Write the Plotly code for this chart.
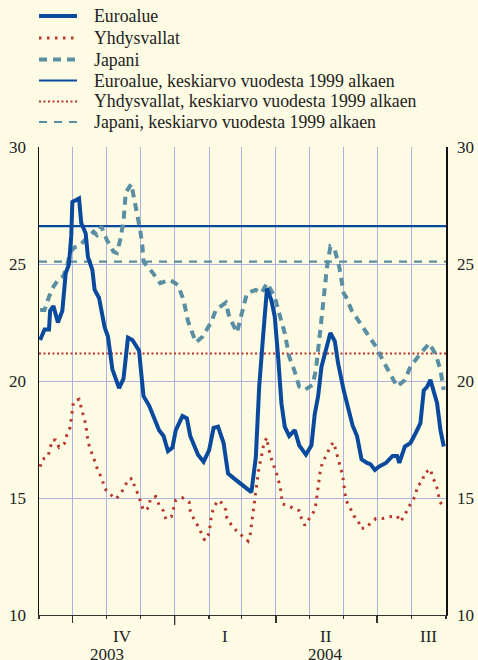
import plotly.graph_objects as go

# ---------------- data ----------------
euro_dates = [
    "2003-09-02", "2003-09-06", "2003-09-10", "2003-09-11", "2003-09-14", "2003-09-18",
    "2003-09-22", "2003-09-25", "2003-09-28", "2003-09-30", "2003-10-01", "2003-10-07",
    "2003-10-09", "2003-10-13", "2003-10-15", "2003-10-19", "2003-10-21", "2003-10-25",
    "2003-10-30", "2003-11-02", "2003-11-06", "2003-11-12", "2003-11-16", "2003-11-20",
    "2003-11-24", "2003-11-30", "2003-12-02", "2003-12-04", "2003-12-09", "2003-12-14",
    "2003-12-18", "2003-12-22", "2003-12-26", "2003-12-30", "2004-01-02", "2004-01-08",
    "2004-01-12", "2004-01-15", "2004-01-22", "2004-01-27", "2004-02-01", "2004-02-05",
    "2004-02-09", "2004-02-14", "2004-02-18", "2004-02-23", "2004-02-27", "2004-03-04",
    "2004-03-10", "2004-03-14", "2004-03-17", "2004-03-20", "2004-03-24", "2004-03-28",
    "2004-03-31", "2004-04-03", "2004-04-06", "2004-04-09", "2004-04-13", "2004-04-18",
    "2004-04-22", "2004-04-28", "2004-05-03", "2004-05-06", "2004-05-09", "2004-05-12",
    "2004-05-16", "2004-05-20", "2004-05-24", "2004-05-27", "2004-06-01", "2004-06-04",
    "2004-06-09", "2004-06-13", "2004-06-17", "2004-06-22", "2004-06-25", "2004-06-29",
    "2004-07-03", "2004-07-09", "2004-07-15", "2004-07-19", "2004-07-21", "2004-07-26",
    "2004-07-31", "2004-08-05", "2004-08-09", "2004-08-12", "2004-08-15", "2004-08-18",
    "2004-08-21", "2004-08-24", "2004-08-27", "2004-08-30",
]
euro_values = [
    21.75, 22.2, 22.2, 23.0, 23.2, 22.5,
    23.0, 24.6, 25.0, 26.2, 27.65, 27.8,
    26.75, 26.3, 25.3, 24.75, 23.9, 23.55,
    22.3, 21.9, 20.5, 19.7, 20.1, 21.85,
    21.75, 21.3, 20.3, 19.35, 18.95, 18.35,
    17.9, 17.65, 17.0, 17.15, 17.9, 18.5,
    18.4, 17.65, 16.85, 16.55, 17.05, 18.0,
    18.05, 17.35, 16.05, 15.85, 15.7, 15.5,
    15.25, 16.75, 19.75, 21.6, 23.95, 23.45,
    22.75, 21.05, 19.05, 18.05, 17.65, 17.9,
    17.25, 16.85, 17.25, 18.6, 19.35, 20.6,
    21.25, 22.05, 21.7, 20.75, 19.6, 19.0,
    18.1, 17.65, 16.65, 16.5, 16.45, 16.2,
    16.35, 16.5, 16.8, 16.8, 16.5, 17.2,
    17.35, 17.8, 18.2, 19.6, 19.75, 20.05,
    19.6, 19.05, 17.9, 17.2,
]

us_dates = [
    "2003-09-02", "2003-09-04", "2003-09-09", "2003-09-11", "2003-09-13", "2003-09-16",
    "2003-09-19", "2003-09-24", "2003-09-26", "2003-09-29", "2003-09-30", "2003-10-01",
    "2003-10-02", "2003-10-07", "2003-10-09", "2003-10-11", "2003-10-13", "2003-10-14",
    "2003-10-15", "2003-10-17", "2003-10-20", "2003-10-22", "2003-10-25", "2003-10-28",
    "2003-10-30", "2003-11-03", "2003-11-09", "2003-11-13", "2003-11-17", "2003-11-20",
    "2003-11-24", "2003-11-26", "2003-11-29", "2003-12-02", "2003-12-04", "2003-12-09",
    "2003-12-10", "2003-12-15", "2003-12-18", "2003-12-22", "2003-12-24", "2003-12-29",
    "2003-12-31", "2004-01-02", "2004-01-08", "2004-01-14", "2004-01-15", "2004-01-18",
    "2004-01-22", "2004-01-25", "2004-01-28", "2004-02-01", "2004-02-02", "2004-02-03",
    "2004-02-05", "2004-02-09", "2004-02-12", "2004-02-16", "2004-02-17", "2004-02-21",
    "2004-02-26", "2004-03-02", "2004-03-07", "2004-03-09", "2004-03-10", "2004-03-11",
    "2004-03-13", "2004-03-14", "2004-03-15", "2004-03-16", "2004-03-17", "2004-03-19",
    "2004-03-20", "2004-03-22", "2004-03-24", "2004-03-25", "2004-03-27", "2004-03-29",
    "2004-04-01", "2004-04-03", "2004-04-05", "2004-04-06", "2004-04-07", "2004-04-13",
    "2004-04-18", "2004-04-22", "2004-04-24", "2004-04-27", "2004-05-01", "2004-05-05",
    "2004-05-07", "2004-05-08", "2004-05-09", "2004-05-10", "2004-05-11", "2004-05-13",
    "2004-05-17", "2004-05-20", "2004-05-23", "2004-05-25", "2004-05-27", "2004-05-29",
    "2004-05-31", "2004-06-01", "2004-06-03", "2004-06-07", "2004-06-10", "2004-06-14",
    "2004-06-16", "2004-06-21", "2004-06-25", "2004-06-30", "2004-07-06", "2004-07-12",
    "2004-07-19", "2004-07-22", "2004-07-26", "2004-07-29", "2004-08-02", "2004-08-05",
    "2004-08-06", "2004-08-11", "2004-08-12", "2004-08-18", "2004-08-20", "2004-08-23",
    "2004-08-25", "2004-08-26", "2004-08-30",
]
us_values = [
    16.34, 16.65, 16.76, 17.12, 17.48, 17.48,
    17.17, 17.34, 17.69, 18.02, 18.41, 18.76,
    19.12, 19.22, 18.86, 18.5, 18.16, 17.79,
    17.44, 17.08, 16.76, 16.41, 16.1, 15.77,
    15.41, 15.2, 14.96, 15.17, 15.46, 15.8,
    15.83, 15.48, 15.17, 14.77, 14.46, 14.59,
    14.96, 15.06, 14.7, 14.44, 14.1, 14.2,
    14.59, 14.91, 15.01, 14.82, 14.46, 14.13,
    13.8, 13.46, 13.19, 13.49, 13.86, 14.23,
    14.59, 14.9, 14.8, 14.49, 14.13, 13.85,
    13.57, 13.35, 13.16, 13.46, 13.85, 14.4,
    14.94, 15.3, 15.65, 16.01, 16.37, 16.72,
    17.08, 17.41, 17.58, 17.19, 16.84, 16.51,
    16.15, 15.8, 15.46, 15.1, 14.74, 14.66,
    14.52, 14.46, 14.13, 13.83, 14.13, 14.41,
    14.74, 15.12, 15.46, 15.82, 16.18, 16.54,
    16.87, 17.22, 17.38, 17.02, 16.68, 16.34,
    15.98, 15.63, 14.91, 14.56, 14.24, 14.06,
    13.71, 13.71, 13.92, 14.12, 14.12, 14.2,
    14.23, 13.99, 14.26, 14.6, 14.87, 15.17,
    15.51, 15.7, 16.03, 16.24, 15.88, 15.59,
    15.24, 14.88, 14.59,
]

japan_dates = [
    "2003-09-02", "2003-09-06", "2003-09-10", "2003-09-14", "2003-09-19", "2003-09-23",
    "2003-09-26", "2003-09-29", "2003-10-03", "2003-10-08", "2003-10-14", "2003-10-20",
    "2003-10-23", "2003-10-27", "2003-11-01", "2003-11-07", "2003-11-10", "2003-11-13",
    "2003-11-16", "2003-11-18", "2003-11-23", "2003-11-26", "2003-12-01", "2003-12-03",
    "2003-12-04", "2003-12-12", "2003-12-19", "2003-12-28", "2004-01-04", "2004-01-09",
    "2004-01-13", "2004-01-20", "2004-01-26", "2004-02-03", "2004-02-07", "2004-02-16",
    "2004-02-19", "2004-02-26", "2004-03-02", "2004-03-06", "2004-03-14", "2004-03-19",
    "2004-03-24", "2004-03-31", "2004-04-04", "2004-04-09", "2004-04-13", "2004-04-18",
    "2004-04-22", "2004-04-27", "2004-05-04", "2004-05-07", "2004-05-11", "2004-05-14",
    "2004-05-17", "2004-05-20", "2004-05-24", "2004-05-28", "2004-06-01", "2004-06-03",
    "2004-06-08", "2004-06-15", "2004-06-22", "2004-06-30", "2004-07-06", "2004-07-12",
    "2004-07-19", "2004-07-26", "2004-07-31", "2004-08-08", "2004-08-17", "2004-08-23",
    "2004-08-27", "2004-08-30",
]
japan_values = [
    23.03, 23.03, 23.6, 24.03, 24.39, 24.49,
    24.88, 25.51, 25.71, 25.81, 26.11, 26.38,
    26.24, 26.61, 26.03, 25.53, 25.47, 26.03,
    26.81, 28.06, 28.42, 27.74, 26.45, 25.74,
    25.1, 24.64, 24.18, 24.32, 24.1, 23.46,
    22.56, 21.65, 21.89, 22.53, 23.03, 23.35,
    22.75, 22.07, 23.03, 23.75, 23.89, 23.75,
    24.18, 23.6, 22.89, 22.04, 21.04, 20.4,
    19.76, 19.62, 19.83, 20.47, 22.18, 23.6,
    24.88, 25.74, 25.6, 24.88, 23.75, 23.6,
    23.03, 22.53, 22.04, 21.47, 20.9, 20.33,
    19.76, 20.04, 20.61, 21.11, 21.61, 21.11,
    20.47, 19.62,
]

avg_euro = 26.62
avg_us = 21.18
avg_japan = 25.1

legend_names = [
    "Euroalue",
    "Yhdysvallat",
    "Japani",
    "Euroalue, keskiarvo vuodesta 1999 alkaen",
    "Yhdysvallat, keskiarvo vuodesta 1999 alkaen",
    "Japani, keskiarvo vuodesta 1999 alkaen",
]

x_start, x_end = "2003-09-01", "2004-09-01"
quarter_starts = ["2003-10-01", "2004-01-01", "2004-04-01", "2004-07-01"]
quarter_label_dates = ["2003-11-15", "2004-02-15", "2004-05-16", "2004-08-16"]
quarter_labels = ["IV", "I", "II", "III"]
year_label_dates = ["2003-11-01", "2004-05-16"]
year_labels = ["2003", "2004"]
y_ticks = [10, 15, 20, 25, 30]

# ---------------- styles ----------------
BLUE = "#0a4a9e"
RED = "#b8352b"
TEAL = "#5a8ea2"
BG = "#fdfbe3"
GRID = "#aeb2dc"
FONT = '"Liberation Serif", "Times New Roman", "DejaVu Serif", serif'
TXT = "#222222"

W, H = 478, 660
ML, MT = 39, 147
PW, PH = 407, 468
MR, MB = W - ML - PW, H - MT - PH


def px_x(px):
    return (px - ML) / PW


def px_y(py):
    return (MT + PH - py) / PH


line_styles = [
    dict(color=BLUE, width=4),
    dict(color=RED, width=3, dash="2.5px,5.5px"),
    dict(color=TEAL, width=4, dash="8px,6px"),
    dict(color=BLUE, width=2.2),
    dict(color=RED, width=2, dash="2px,2.5px"),
    dict(color=TEAL, width=2.2, dash="8px,7px"),
]

fig = go.Figure()

# average lines (drawn beneath the series)
fig.add_trace(go.Scatter(x=[x_start, x_end], y=[avg_euro, avg_euro], mode="lines",
                         name=legend_names[3], line=line_styles[3], showlegend=False))
fig.add_trace(go.Scatter(x=[x_start, x_end], y=[avg_us, avg_us], mode="lines",
                         name=legend_names[4], line=line_styles[4], showlegend=False))
fig.add_trace(go.Scatter(x=[x_start, x_end], y=[avg_japan, avg_japan], mode="lines",
                         name=legend_names[5], line=line_styles[5], showlegend=False))

# main series
fig.add_trace(go.Scatter(x=us_dates, y=us_values, mode="lines", name=legend_names[1],
                         line=line_styles[1], showlegend=False))
fig.add_trace(go.Scatter(x=japan_dates, y=japan_values, mode="lines", name=legend_names[2],
                         line=line_styles[2], showlegend=False))
fig.add_trace(go.Scatter(x=euro_dates, y=euro_values, mode="lines", name=legend_names[0],
                         line=line_styles[0], showlegend=False))

# invisible trace to activate the right-hand axis
fig.add_trace(go.Scatter(x=[x_start, x_end], y=[10, 30], yaxis="y2", mode="lines",
                         line=dict(width=0), opacity=0, showlegend=False, hoverinfo="skip"))

annotations = []
shapes = []

# legend drawn as shapes + text
row_y = [16, 38, 59.5, 80.5, 101.5, 122]
for name, st, ry in zip(legend_names, line_styles, row_y):
    shapes.append(dict(type="line", xref="paper", yref="paper",
                       x0=px_x(39), x1=px_x(77), y0=px_y(ry), y1=px_y(ry),
                       line=dict(color=st["color"], width=st["width"], dash=st.get("dash", "solid"))))
    annotations.append(dict(x=px_x(92), y=px_y(ry), xref="paper", yref="paper", text=name,
                            showarrow=False, xanchor="left", yanchor="middle",
                            font=dict(family=FONT, size=17.8, color=TXT)))

for d, t in zip(quarter_label_dates, quarter_labels):
    annotations.append(dict(x=d, y=0, xref="x", yref="paper", text=t, showarrow=False,
                            yanchor="middle", yshift=-21, font=dict(family=FONT, size=17, color=TXT)))
for d, t in zip(year_label_dates, year_labels):
    annotations.append(dict(x=d, y=0, xref="x", yref="paper", text=t, showarrow=False,
                            yanchor="middle", yshift=-39, font=dict(family=FONT, size=17, color=TXT)))

# longer year-boundary tick
shapes.append(dict(type="line", xref="x", yref="paper", x0="2004-01-01", x1="2004-01-01",
                   y0=0, y1=-10 / PH, line=dict(color="#333333", width=1.3)))

fig.update_layout(
    width=W, height=H,
    margin=dict(l=ML, r=MR, t=MT, b=MB, autoexpand=False),
    paper_bgcolor=BG, plot_bgcolor=BG,
    font=dict(family=FONT, size=17, color=TXT),
    showlegend=False,
    xaxis=dict(type="date", range=[x_start, x_end], showgrid=True, gridcolor=GRID, gridwidth=1,
               tickvals=quarter_starts, showticklabels=False, ticks="outside", ticklen=7,
               tickcolor="#333333", tickwidth=1.3,
               minor=dict(dtick="M1", tick0="2003-09-01", showgrid=True, gridcolor=GRID,
                          gridwidth=1, ticks="outside", ticklen=3, tickcolor="#333333", tickwidth=1.3),
               showline=True, linecolor="#333333", linewidth=1.3, zeroline=False, fixedrange=True),
    yaxis=dict(range=[10, 30], tickvals=y_ticks, showgrid=True, gridcolor=GRID, gridwidth=1,
               showline=True, linecolor="#111111", linewidth=1.5, zeroline=False,
               ticks="", ticklabelstandoff=8, tickfont=dict(family=FONT, size=17, color=TXT)),
    yaxis2=dict(range=[10, 30], tickvals=y_ticks, overlaying="y", side="right", showgrid=False,
                showline=True, linecolor="#111111", linewidth=1.5, zeroline=False,
                ticks="", ticklabelstandoff=6, tickfont=dict(family=FONT, size=17, color=TXT)),
    annotations=annotations,
    shapes=shapes,
    hovermode=False,
)

# remove the default page margin so the 478x660 figure fills the window exactly
fig.write_html(
    "out.html",
    config={"displayModeBar": False, "staticPlot": True},
    post_script="document.body.style.margin='0';document.body.style.overflow='hidden';",
)
